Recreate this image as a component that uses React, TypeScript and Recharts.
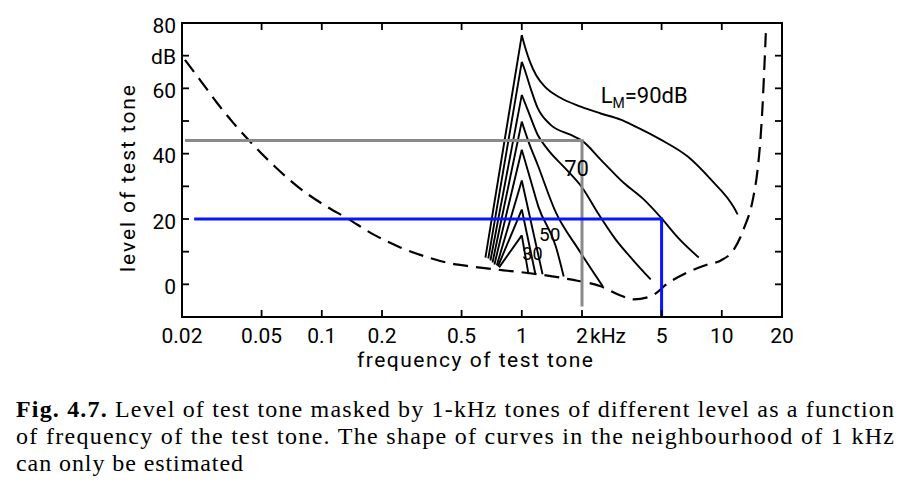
import React from 'react';
import { LineChart, Line, XAxis, YAxis, ReferenceDot, Label } from 'recharts';

// ---- axis ticks ----
const xTicks = [0.02, 0.05, 0.1, 0.2, 0.5, 1, 2, 5, 10, 20];
const xTickLabels = ['0.02', '0.05', '0.1', '0.2', '0.5', '1', '2', '5', '10', '20'];
const yTicks = [-10, 0, 10, 20, 30, 40, 50, 60, 70, 80];
const yTickLabels = ['', '0', '', '20', '', '40', '', '60', 'dB', '80'];

// ---- threshold in quiet (dashed) : [kHz, dB] ----
const quietThreshold: [number, number][] = [
  [0.0207, 68.7], [0.0246, 62.6], [0.0299, 55.6], [0.036, 49.5], [0.0438, 43.7],
  [0.0584, 36.0], [0.078, 29.3], [0.104, 24.1], [0.134, 20.2], [0.181, 15.3],
  [0.247, 11.3], [0.33, 8.5], [0.44, 6.4], [0.553, 5.5], [0.81, 4.3], [1.2, 3.1],
  [1.75, 1.5], [2.48, -0.6], [3.12, -3.4], [3.62, -4.6], [4.41, -3.7], [5.37, 0.3],
  [6.76, 3.7], [8.51, 6.1], [9.89, 7.3], [11.5, 10.7], [12.9, 17.1], [14.3, 26],
  [15.1, 35.1], [15.6, 44.3], [16.0, 55], [16.3, 65.6], [16.6, 76.9],
];

// ---- masked thresholds for 1-kHz maskers of level L_M : [kHz, dB] ----
const mask20: [number, number][] = [[0.77, 5.2], [1, 15], [1.08, 3.1]];
const mask30: [number, number][] = [[0.76, 5.5], [1, 22.9], [1.17, 3.1]];
const mask40: [number, number][] = [[0.75, 5.8], [1, 31.8], [1.27, 3.1]];
const mask50: [number, number][] = [[0.73, 6.1], [1, 41.2], [1.1, 32.5], [1.21, 23.8], [1.48, 11.6], [1.62, 2.4]];
const mask60: [number, number][] = [[0.714, 6.7], [1, 49.8], [1.08, 43.7], [1.2, 36.6], [1.48, 22], [1.92, 10.7], [2.54, -0.6]];
const mask70: [number, number][] = [
  [0.697, 7.3], [1, 58], [1.08, 52.8], [1.2, 45.8], [1.36, 41], [1.65, 35.5], [2.01, 29.5],
  [2.42, 21.5], [2.95, 13.7], [3.58, 7.6], [4.41, 1.5],
];
const mask80: [number, number][] = [
  [0.68, 7.9], [1, 68.1], [1.03, 66], [1.1, 60.5], [1.2, 54], [1.39, 48.9], [1.75, 45.8], [2.0, 44],
  [2.48, 38.2], [3.23, 31.1], [4.07, 26], [5, 20.2], [6.02, 14.4], [7.67, 8.2],
];
const mask90: [number, number][] = [
  [0.658, 8.2], [1, 76.3], [1.04, 72.5], [1.1, 68], [1.18, 64], [1.3, 60.6], [1.56, 57.1],
  [1.97, 54.4], [2.48, 52.3], [3.12, 50.4], [3.62, 48.6], [4.95, 44.3], [6.76, 39.1],
  [8.81, 32.1], [11.5, 23.5], [12.0, 21.4],
];
const maskCurves = [mask20, mask30, mask40, mask50, mask60, mask70, mask80, mask90];

// ---- example read-offs ----
const grayExample: [number, number][] = [[0.0207, 44], [2, 44], [2, -6.8]];
const blueExample: [number, number][] = [[0.023, 20], [5, 20], [5, -10]];

// ---- curve labels : [kHz, dB, text, fontSize] ----
const curveLabels: [number, number, string, number][] = [
  [1.13, 9.5, '30', 18],
  [1.38, 15.3, '50', 19],
  [1.88, 35.7, '70', 22],
];
const lmLabelPos: [number, number] = [2.48, 55.6];

const toRows = (pts: [number, number][]) => pts.map(([f, v]) => ({ f, v }));
const leftPart = (pts: [number, number][]) => toRows(pts.filter(([f]) => f <= 1));
const rightPart = (pts: [number, number][]) => toRows(pts.filter(([f]) => f >= 1));

const FONT = 'Roboto, "DejaVu Sans", sans-serif';
const TICK = 7;

const xLabelFor = (v: number) => {
  let best = 0;
  xTicks.forEach((t, i) => {
    if (Math.abs(Math.log(t / v)) < Math.abs(Math.log(xTicks[best] / v))) best = i;
  });
  return xTickLabels[best];
};

const BottomTick = (props: any) => {
  const { x, y, payload } = props;
  const lab = xLabelFor(payload.value);
  return (
    <g>
      <line x1={x} y1={y} x2={x} y2={y - TICK} stroke="#000" strokeWidth={1.8} />
      {lab === '2' ? (
        <g>
          <text x={x} y={y + 26} textAnchor="middle" fontFamily={FONT} fontSize={21} fill="#000">2</text>
          <text x={x + 8} y={y + 26} textAnchor="start" fontFamily={FONT} fontSize={21} fill="#000">kHz</text>
        </g>
      ) : (
        <text x={x} y={y + 26} textAnchor="middle" fontFamily={FONT} fontSize={21} fill="#000">{lab}</text>
      )}
    </g>
  );
};

const TopTick = (props: any) => {
  const { x, y } = props;
  return <line x1={x} y1={y} x2={x} y2={y + TICK} stroke="#000" strokeWidth={1.8} />;
};

const LeftTick = (props: any) => {
  const { x, y, payload } = props;
  const i = yTicks.indexOf(Math.round(payload.value));
  const lab = i >= 0 ? yTickLabels[i] : '';
  return (
    <g>
      <line x1={x} y1={y} x2={x + TICK} y2={y} stroke="#000" strokeWidth={1.8} />
      {lab ? (
        <text x={x - 6} y={y + (lab === 'dB' ? 8 : 9.5)} textAnchor="end" fontFamily={FONT} fontSize={21} fill="#000">{lab}</text>
      ) : null}
    </g>
  );
};

const RightTick = (props: any) => {
  const { x, y } = props;
  return <line x1={x} y1={y} x2={x - TICK} y2={y} stroke="#000" strokeWidth={1.8} />;
};

const XTitle = (props: any) => {
  const vb = props.viewBox || { x: 182, y: 317, width: 600 };
  return (
    <text x={vb.x + 175} y={vb.y + 50} fontFamily={FONT} fontSize={21} fill="#000" textLength={236} lengthAdjust="spacing">
      frequency of test tone
    </text>
  );
};

const YTitle = (props: any) => {
  const vb = props.viewBox || { x: 181, y: 23, width: 1, height: 294 };
  const bx = vb.x + (vb.width || 0) - 47;
  const by = vb.y + vb.height - 45;
  return (
    <text x={bx} y={by} transform={`rotate(-90 ${bx} ${by})`} fontFamily={FONT} fontSize={21} fill="#000" textLength={187} lengthAdjust="spacing">
      level of test tone
    </text>
  );
};

const centerOf = (vb: any) => ({ cx: vb.x + (vb.width || 0) / 2, cy: vb.y + (vb.height || 0) / 2 });

const makeCurveLabel = (text: string, size: number) => (props: any) => {
  const { cx, cy } = centerOf(props.viewBox);
  return (
    <text x={cx} y={cy + size * 0.36} textAnchor="middle" fontFamily={FONT} fontSize={size} fill="#000">{text}</text>
  );
};

const LmLabel = (props: any) => {
  const { cx, cy } = centerOf(props.viewBox);
  return (
    <text x={cx} y={cy} fontFamily={FONT} fontSize={22} fill="#000">
      L<tspan fontSize={14} dy={5}>M</tspan><tspan dy={-5}>=90dB</tspan>
    </text>
  );
};

const frame = { stroke: '#000', strokeWidth: 2, strokeLinecap: 'square' as const };

export default function App() {
  return (
    <div style={{ position: 'absolute', left: 0, top: 0, width: 910, height: 491, background: '#fff' }}>
      <LineChart width={910} height={491} margin={{ top: 22, right: 127, bottom: 173, left: 181 }}>
        <XAxis
          dataKey="f" type="number" scale="log" domain={[0.02, 20]} allowDataOverflow
          ticks={xTicks} interval={0} height={1} tickSize={0} tickMargin={0}
          tickLine={false} axisLine={frame} tick={<BottomTick />}
        >
          <Label content={<XTitle />} />
        </XAxis>
        <XAxis
          xAxisId="top" orientation="top" dataKey="f" type="number" scale="log" domain={[0.02, 20]} allowDataOverflow
          ticks={xTicks} interval={0} height={1} tickSize={0} tickMargin={0}
          tickLine={false} axisLine={frame} tick={<TopTick />}
        />
        <YAxis
          type="number" domain={[-10, 80]} ticks={yTicks} interval={0} allowDataOverflow
          width={1} tickSize={0} tickMargin={0} tickLine={false} axisLine={frame} tick={<LeftTick />}
        >
          <Label content={<YTitle />} />
        </YAxis>
        <YAxis
          yAxisId="right" orientation="right" type="number" domain={[-10, 80]} ticks={yTicks} interval={0} allowDataOverflow
          width={1} tickSize={0} tickMargin={0} tickLine={false} axisLine={frame} tick={<RightTick />}
        />

        <Line
          xAxisId="top" yAxisId="right" data={toRows([[1, 0]])} dataKey="v"
          stroke="none" dot={false} isAnimationActive={false} legendType="none"
        />

        <Line
          data={toRows(quietThreshold)} dataKey="v" type="monotone" stroke="#000" strokeWidth={2.2}
          strokeDasharray="15 8" dot={false} isAnimationActive={false}
        />

        {maskCurves.map((c, i) => (
          <Line
            key={`l${i}`} data={leftPart(c)} dataKey="v" type="linear" stroke="#000" strokeWidth={1.9}
            dot={false} isAnimationActive={false}
          />
        ))}
        {maskCurves.map((c, i) => (
          <Line
            key={`r${i}`} data={rightPart(c)} dataKey="v" type="monotone" stroke="#000" strokeWidth={1.9}
            dot={false} isAnimationActive={false}
          />
        ))}

        <Line
          data={toRows(grayExample)} dataKey="v" type="linear" stroke="#8a8a8a" strokeWidth={3}
          dot={false} isAnimationActive={false}
        />
        <Line
          data={toRows(blueExample)} dataKey="v" type="linear" stroke="#0a14ff" strokeWidth={3}
          dot={false} isAnimationActive={false}
        />

        {curveLabels.map(([f, v, t, s]) => (
          <ReferenceDot key={t} x={f} y={v} r={1} fill="none" stroke="none" label={<Label content={makeCurveLabel(t, s)} />} />
        ))}
        <ReferenceDot x={lmLabelPos[0]} y={lmLabelPos[1]} r={1} fill="none" stroke="none" label={<Label content={<LmLabel />} />} />
      </LineChart>

      <svg width={910} height={491} style={{ position: 'absolute', left: 0, top: 0, pointerEvents: 'none' }}>
        <g fontFamily='"Liberation Serif", "DejaVu Serif", serif' fontSize={24} fill="#000">
          <text x={16} y={417} textLength={878} lengthAdjust="spacing">
            <tspan fontWeight="bold">Fig. 4.7.</tspan> Level of test tone masked by 1-kHz tones of different level as a function
          </text>
          <text x={16} y={444} textLength={878} lengthAdjust="spacing">
            of frequency of the test tone. The shape of curves in the neighbourhood of 1 kHz
          </text>
          <text x={16} y={471} textLength={227} lengthAdjust="spacing">
            can only be estimated
          </text>
        </g>
      </svg>
    </div>
  );
}
